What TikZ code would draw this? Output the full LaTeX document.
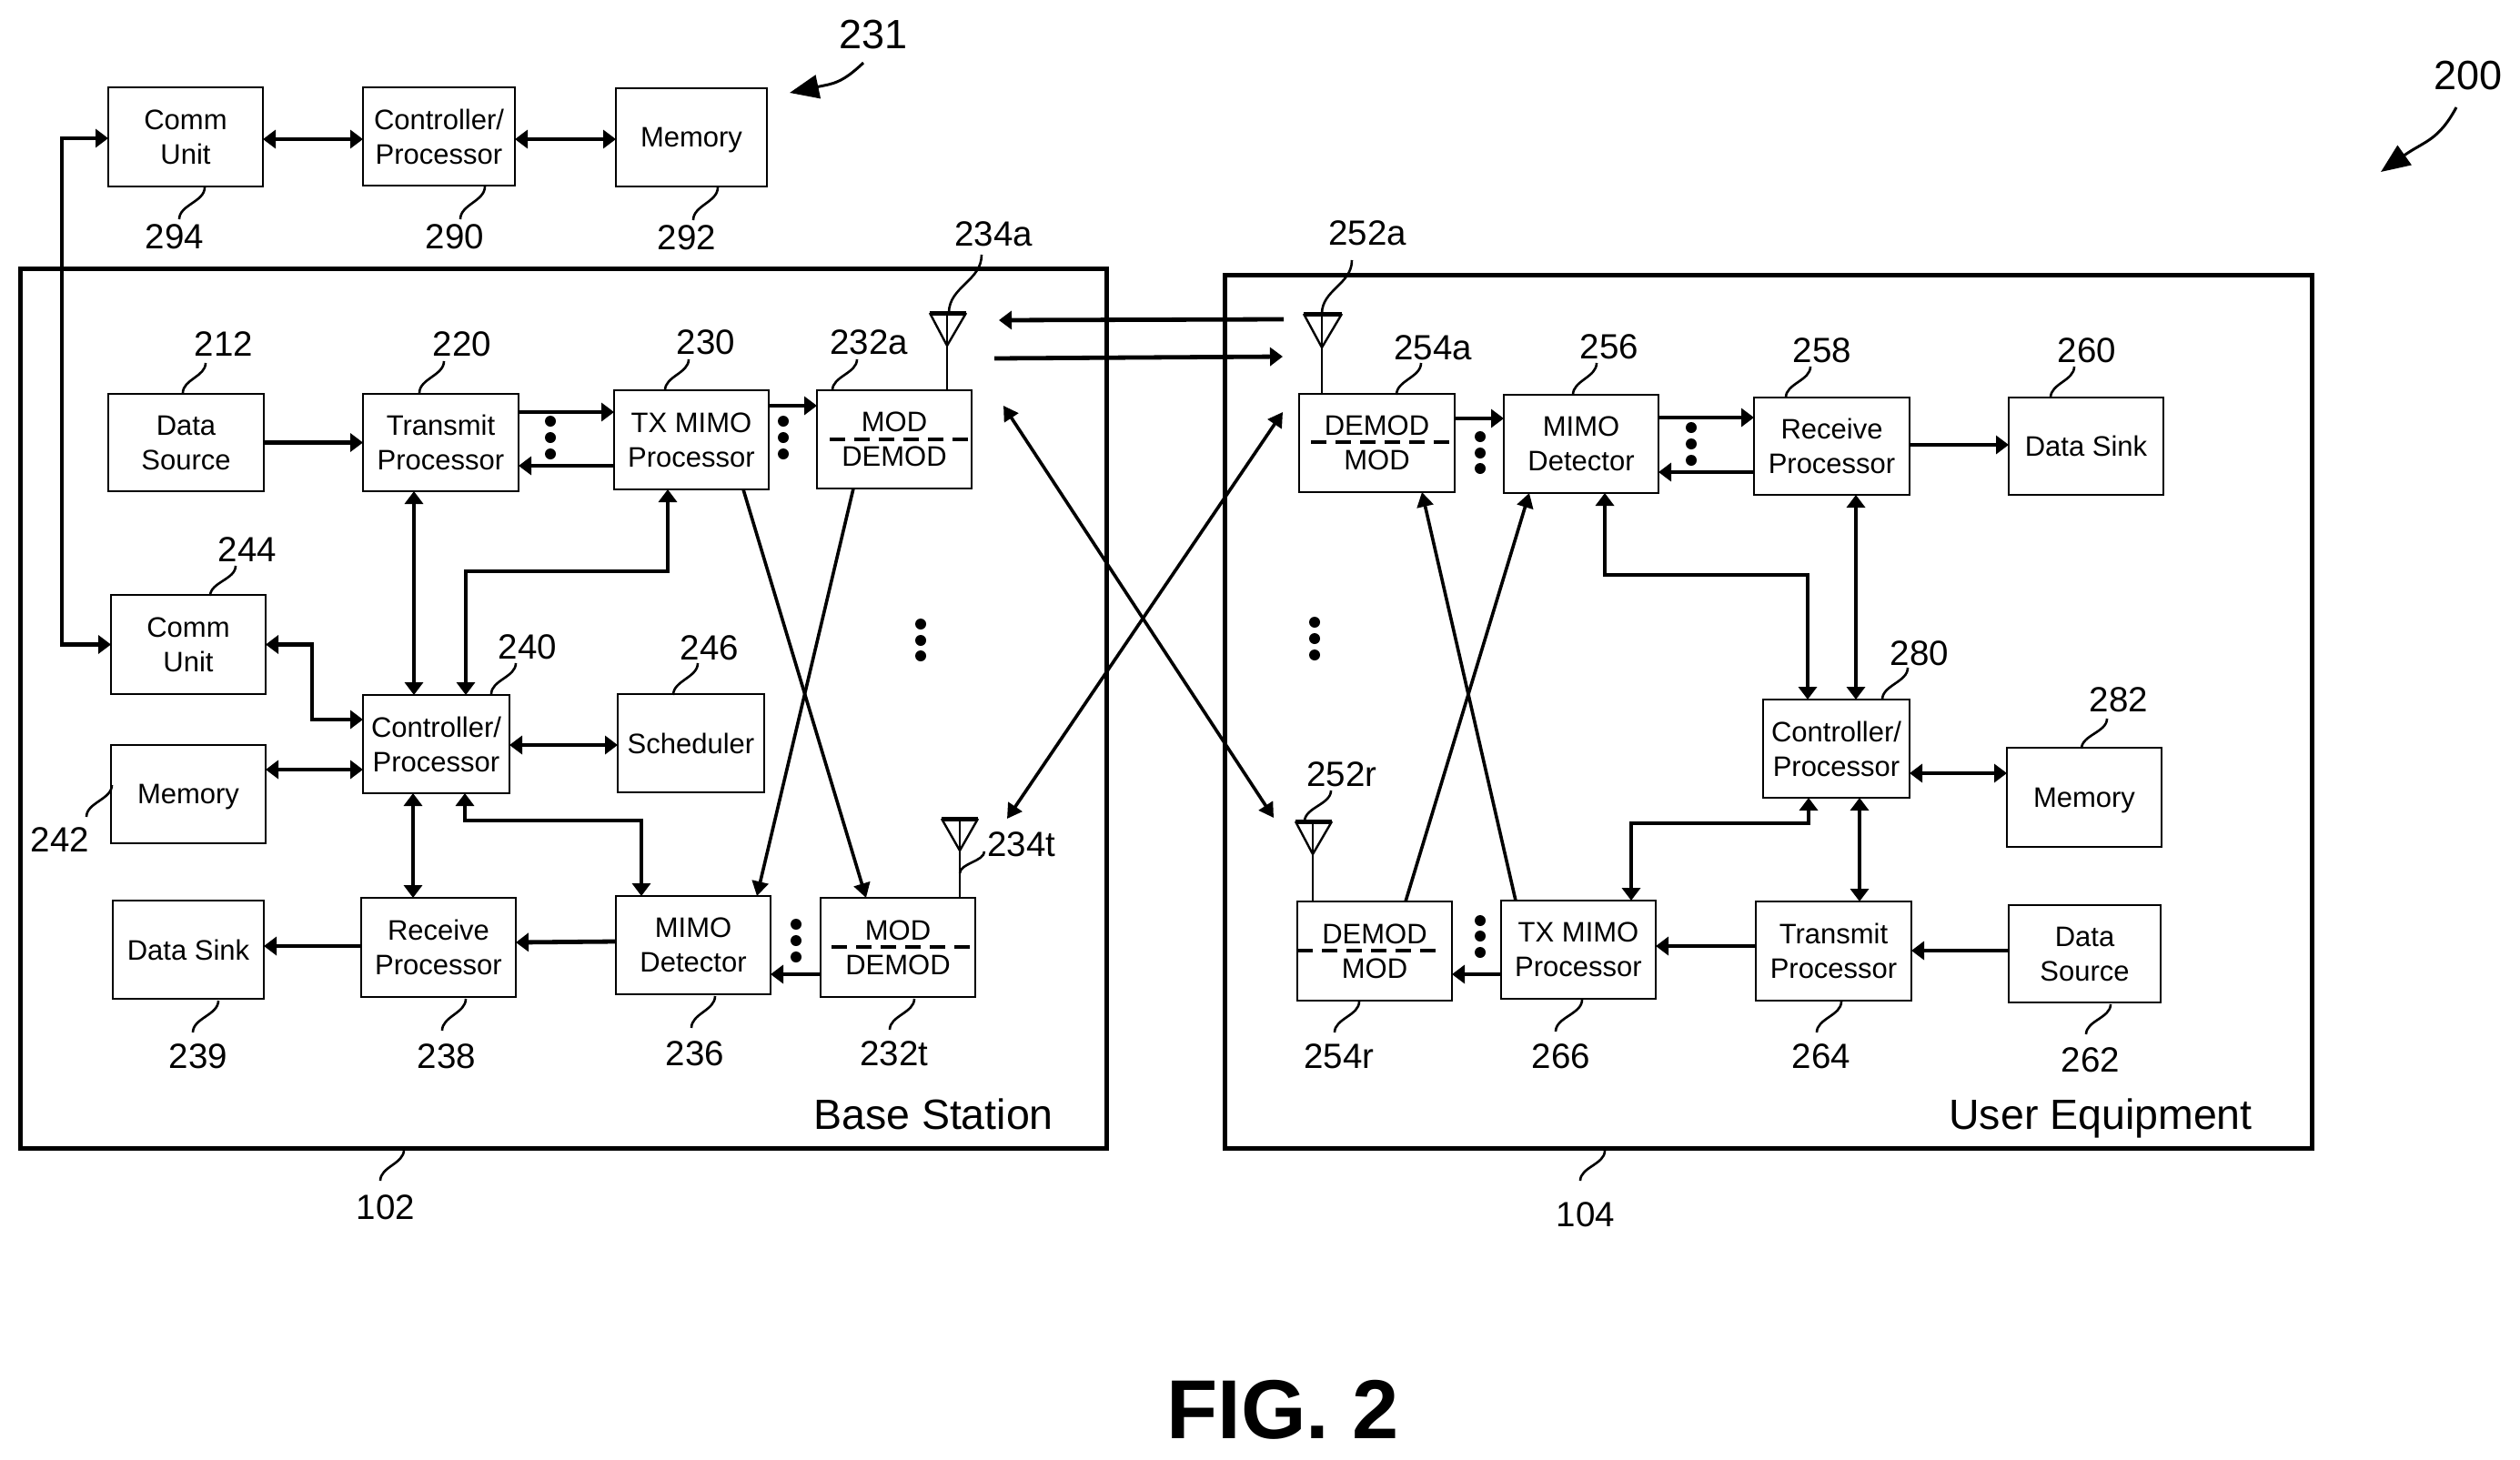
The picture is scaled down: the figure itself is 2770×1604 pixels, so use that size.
\documentclass[tikz,border=0pt]{standalone}
\usepackage{fontspec}
\setmainfont{Liberation Sans}
\usetikzlibrary{arrows.meta,calc}
\tikzset{
  boxn/.style={draw=black,line width=1.6pt,inner sep=0pt,outer sep=0pt,align=center,font=\fontsize{31}{38}\selectfont},
  lab/.style={inner sep=0pt,font=\fontsize{38.5}{44}\selectfont},
  biglab/.style={inner sep=0pt,font=\fontsize{45}{50}\selectfont},
  titlelab/.style={inner sep=0pt,font=\fontsize{46.5}{52}\selectfont},
  figlab/.style={inner sep=0pt,font=\fontsize{92}{100}\selectfont\bfseries},
  frameb/.style={draw=black,line width=5pt,inner sep=0pt,outer sep=0pt},
  conn/.style={draw=black,line width=4.8pt,-{Triangle[length=14pt,width=20pt]}},
  both/.style={draw=black,line width=4.8pt,{Triangle[length=14pt,width=20pt]}-{Triangle[length=14pt,width=20pt]}},
  diag/.style={draw=black,line width=3.6pt,-{Triangle[length=16pt,width=18pt]}},
  diagboth/.style={draw=black,line width=3.6pt,{Triangle[length=16pt,width=18pt]}-{Triangle[length=16pt,width=18pt]}},
  lead/.style={draw=black,line width=2.6pt},
  refarrow/.style={draw=black,line width=3pt,-{Triangle[length=32pt,width=26pt]}},
  sep/.style={draw=black,line width=4.5pt,dash pattern=on 17pt off 10pt},
  ant/.style={draw=black,line width=2.4pt},
  stem/.style={draw=black,line width=2.6pt},
  dotn/.style={circle,fill=black,inner sep=0pt,minimum size=12pt}
}
% name, x1, y1, x2, y2, text
\newcommand{\blk}[6]{\node[boxn,minimum width=#4pt-#2pt,minimum height=#5pt-#3pt] (#1) at ({(#2+#4)/2},{(#3+#5)/2}) {#6};}
\newcommand{\nodesc}[1]{\raisebox{0pt}[\height][0pt]{#1}}
% S-shaped reference line
\newcommand{\leadS}[5]{\coordinate (#1a) at (#2,#3); \coordinate (#1b) at (#4,#5);
  \draw[lead] (#1a) .. controls ($(#1a)!.45!(#1a|-#1b)$) and ($(#1b)!.45!(#1b|-#1a)$) .. (#1b);}
% three dots
\newcommand{\threedots}[5]{\node[dotn] (#1a) at (#2,#3) {}; \node[dotn] (#1b) at (#2,#4) {}; \node[dotn] (#1c) at (#2,#5) {};}
% antenna: name, left x, right x, top y, tip x, tip y, box
\newcommand{\antenna}[7]{\coordinate (#1l) at (#2,#4); \coordinate (#1r) at (#3,#4); \coordinate (#1t) at (#5,#6); \coordinate (#1m) at (#5,#4);
  \draw[ant] (#1l) -- (#1t) -- (#1r); \draw[line width=5pt] (#1l) -- (#1r);
  \draw[line width=1.8pt] (#1m) -- (#1t);
  \draw[stem] (#1t) -- (#7.north -| #1t);}
\begin{document}
\begin{tikzpicture}[x=1pt,y=-1pt]
\useasboundingbox (0,0) rectangle (2770,1604);
% frames
\node[frameb,minimum width=1194pt,minimum height=967pt] (bs) at (619,778.5) {};
\node[frameb,minimum width=1195pt,minimum height=960pt] (ue) at (1943.5,782) {};
% top group
\blk{u294}{119}{96}{289}{205}{Comm\\Unit}
\blk{u290}{399}{96}{566}{204}{Controller/\\Processor}
\blk{u292}{677}{97}{843}{205}{\nodesc{Memory}}
% base station
\blk{u212}{119}{433}{290}{540}{Data\\Source}
\blk{u220}{399}{433}{570}{540}{Transmit\\Processor}
\blk{u230}{675}{429}{845}{538}{TX MIMO\\Processor}
\blk{u232a}{898}{429}{1068}{537}{MOD\\DEMOD}
\blk{u244}{122}{654}{292}{763}{Comm\\Unit}
\blk{u240}{399}{764}{560}{872}{Controller/\\Processor}
\blk{u246}{679}{763}{840}{871}{Scheduler}
\blk{u242}{122}{819}{292}{927}{\nodesc{Memory}}
\blk{u239}{124}{990}{290}{1098}{Data Sink}
\blk{u238}{397}{987}{567}{1096}{Receive\\Processor}
\blk{u236}{677}{985}{847}{1093}{MIMO\\Detector}
\blk{u232t}{902}{987}{1072}{1096}{MOD\\DEMOD}
% user equipment
\blk{u254a}{1428}{433}{1599}{541}{DEMOD\\MOD}
\blk{u256}{1653}{434}{1823}{542}{MIMO\\Detector}
\blk{u258}{1928}{437}{2099}{544}{Receive\\Processor}
\blk{u260}{2208}{437}{2378}{544}{Data Sink}
\blk{u280}{1938}{769}{2099}{877}{Controller/\\Processor}
\blk{u282}{2206}{822}{2376}{931}{\nodesc{Memory}}
\blk{u254r}{1426}{991}{1596}{1100}{DEMOD\\MOD}
\blk{u266}{1650}{990}{1820}{1098}{TX MIMO\\Processor}
\blk{u264}{1930}{991}{2101}{1100}{Transmit\\Processor}
\blk{u262}{2208}{995}{2375}{1102}{Data\\Source}
% separators
\coordinate (s1a) at (912,483); \coordinate (s1b) at (1069,483); \draw[sep] (s1a) -- (s1b);
\coordinate (s2a) at (914,1041); \coordinate (s2b) at (1072,1041); \draw[sep] (s2a) -- (s2b);
\coordinate (s3a) at (1441,486); \coordinate (s3b) at (1598,486); \draw[sep] (s3a) -- (s3b);
\coordinate (s4a) at (1426,1045); \coordinate (s4b) at (1584,1045); \draw[sep] (s4a) -- (s4b);
% top group connectors
\draw[both] (u294.east |- 0,153) -- (u290.west |- 0,153);
\draw[both] (u290.east |- 0,153) -- (u292.west |- 0,153);
\draw[both] (u294.west |- 0,152) -- (68,152) |- (u244.west);
% base station connectors
\draw[conn] (u212.east) -- (u220.west);
\draw[conn] (u220.east |- 0,453) -- (u230.west |- 0,453);
\draw[conn] (u230.west |- 0,512) -- (u220.east |- 0,512);
\draw[conn] (u230.east |- 0,446) -- (u232a.west |- 0,446);
\draw[both] (u220.south -| 455,0) -- (u240.north -| 455,0);
\draw[both] (u240.north -| 512,0) -- (512,628) -- (734,628) -- (u230.south -| 734,0);
\draw[both] (u244.east) -- (343,708.5) -- (343,791) -- (u240.west |- 0,791);
\draw[both] (u242.east |- 0,846) -- (u240.west |- 0,846);
\draw[both] (u240.east |- 0,819) -- (u246.west |- 0,819);
\draw[both] (u240.south -| 454,0) -- (u238.north -| 454,0);
\draw[both] (u240.south -| 511,0) -- (511,902) -- (705,902) -- (u236.north -| 705,0);
\draw[conn] (u238.west |- 0,1040) -- (u239.east |- 0,1040);
\draw[conn] (u236.west |- 0,1035) -- (u238.east |- 0,1036);
\draw[conn] (u232t.west |- 0,1071) -- (u236.east |- 0,1071);
\draw[diag] (u230.south -| 817,0) -- (u232t.north -| 952,0);
\draw[diag] (u232a.south -| 938,0) -- (u236.north -| 832,0);
% user equipment connectors
\draw[conn] (u254a.east |- 0,460) -- (u256.west |- 0,460);
\draw[conn] (u256.east |- 0,459) -- (u258.west |- 0,459);
\draw[conn] (u258.west |- 0,519) -- (u256.east |- 0,519);
\draw[conn] (u258.east |- 0,489) -- (u260.west |- 0,489);
\draw[both] (u256.south -| 1764,0) -- (1764,632) -- (1987,632) -- (u280.north -| 1987,0);
\draw[both] (u258.south -| 2040,0) -- (u280.north -| 2040,0);
\draw[both] (u280.east |- 0,850) -- (u282.west |- 0,850);
\draw[both] (u280.south -| 2044,0) -- (u264.north -| 2044,0);
\draw[both] (u280.south -| 1988,0) -- (1988,905) -- (1793,905) -- (u266.north -| 1793,0);
\draw[conn] (u262.west |- 0,1045) -- (u264.east |- 0,1045);
\draw[conn] (u264.west |- 0,1040) -- (u266.east |- 0,1040);
\draw[conn] (u266.west |- 0,1071) -- (u254r.east |- 0,1071);
\draw[diag] (u254r.north -| 1545,0) -- (u256.south -| 1681,0);
\draw[diag] (u266.north -| 1666,0) -- (u254a.south -| 1563,0);
% over-the-air links
\coordinate (a1) at (1411,351); \coordinate (a2) at (1098,352);
\coordinate (a3) at (1093,394); \coordinate (a4) at (1410,392);
\coordinate (a5) at (1103,446); \coordinate (a6) at (1400,899);
\coordinate (a7) at (1410,453); \coordinate (a8) at (1107,900);
\draw[conn] (a1) -- (a2);
\draw[conn] (a3) -- (a4);
\draw[diagboth] (a5) -- (a6);
\draw[diagboth] (a7) -- (a8);
% antennas
\antenna{n1}{1022}{1062}{344}{1041}{380}{u232a}
\antenna{n2}{1035}{1075}{900}{1055}{935}{u232t}
\antenna{n3}{1433}{1475}{345}{1453}{382}{u254a}
\antenna{n4}{1424}{1464}{903}{1443}{939}{u254r}
% dots
\threedots{d1}{605}{463}{481}{499}
\threedots{d2}{861}{463}{481}{499}
\threedots{d3}{1012}{686}{704}{721}
\threedots{d4}{875}{1016}{1034}{1052}
\threedots{d5}{1627}{480}{498}{515}
\threedots{d6}{1859}{470}{488}{506}
\threedots{d7}{1445}{684}{702}{720}
\threedots{d8}{1627}{1012}{1029}{1047}
% reference labels
\node[biglab] (t231) at (960,38) {231};
\node[biglab] (t200) at (2713,83) {200};
\coordinate (r1a) at (949,69); \coordinate (r1b) at (868,102);
\draw[refarrow] (r1a) .. controls (925,92) and (915,92) .. (r1b);
\coordinate (r2a) at (2700,118); \coordinate (r2b) at (2617,189);
\draw[refarrow] (r2a) .. controls (2680,155) and (2665,155) .. (r2b);
\node[lab] (t294) at (192,260) {294};
\node[lab] (t290) at (500,260) {290};
\node[lab] (t292) at (755,261) {292};
\node[lab] (t234a) at (1092,257) {234a};
\node[lab] (t212) at (246,378) {212};
\node[lab] (t220) at (508,378) {220};
\node[lab] (t230) at (776,376) {230};
\node[lab] (t232a) at (955,376) {232a};
\node[lab] (t244) at (272,604) {244};
\node[lab] (t240) at (580,711) {240};
\node[lab] (t246) at (780,712) {246};
\node[lab] (t242) at (66,923) {242};
\node[lab] (t239) at (218,1161) {239};
\node[lab] (t238) at (491,1161) {238};
\node[lab] (t236) at (764,1158) {236};
\node[lab] (t232t) at (983,1158) {232t};
\node[lab] (t234t) at (1123,928) {234t};
\node[lab] (t102) at (424,1327) {102};
\node[lab] (t252a) at (1503,256) {252a};
\node[lab] (t254a) at (1575,382) {254a};
\node[lab] (t256) at (1769,381) {256};
\node[lab] (t258) at (2003,385) {258};
\node[lab] (t260) at (2294,385) {260};
\node[lab] (t280) at (2110,718) {280};
\node[lab] (t282) at (2329,769) {282};
\node[lab] (t252r) at (1475,851) {252r};
\node[lab] (t254r) at (1472,1161) {254r};
\node[lab] (t266) at (1716,1161) {266};
\node[lab] (t264) at (2002,1161) {264};
\node[lab] (t262) at (2298,1165) {262};
\node[lab] (t104) at (1743,1335) {104};
\node[titlelab] (tbs) at (1026,1225) {Base Station};
\node[titlelab] (tue) at (2309,1229) {User Equipment};
\node[figlab] (tfig) at (1410,1550) {FIG. 2};
% reference lines
\leadS{l294}{225}{206}{197}{241}
\leadS{l290}{533}{205}{506}{241}
\leadS{l292}{789}{206}{762}{242}
\leadS{l234a}{1079}{280}{1043}{344}
\leadS{l212}{226}{399}{201}{432}
\leadS{l220}{488}{397}{461}{432}
\leadS{l230}{757}{395}{731}{429}
\leadS{l232a}{942}{395}{915}{429}
\leadS{l244}{259}{622}{231}{655}
\leadS{l240}{567}{729}{540}{763}
\leadS{l246}{767}{729}{740}{764}
\leadS{l242}{123}{863}{95}{898}
\leadS{l239}{240}{1100}{212}{1135}
\leadS{l238}{512}{1098}{486}{1133}
\leadS{l236}{786}{1095}{760}{1130}
\leadS{l232t}{1005}{1098}{978}{1132}
\leadS{l234t}{1082}{936}{1055}{960}
\leadS{l102}{444}{1264}{418}{1298}
\leadS{l252a}{1486}{286}{1453}{345}
\leadS{l254a}{1562}{399}{1535}{434}
\leadS{l256}{1755}{399}{1729}{434}
\leadS{l258}{1990}{403}{1963}{437}
\leadS{l260}{2280}{403}{2254}{437}
\leadS{l280}{2097}{734}{2069}{769}
\leadS{l282}{2316}{790}{2288}{823}
\leadS{l252r}{1463}{869}{1434}{903}
\leadS{l254r}{1494}{1101}{1467}{1135}
\leadS{l266}{1739}{1099}{1710}{1134}
\leadS{l264}{2024}{1101}{1997}{1135}
\leadS{l262}{2320}{1104}{2293}{1137}
\leadS{l104}{1764}{1265}{1737}{1298}
\end{tikzpicture}
\end{document}
